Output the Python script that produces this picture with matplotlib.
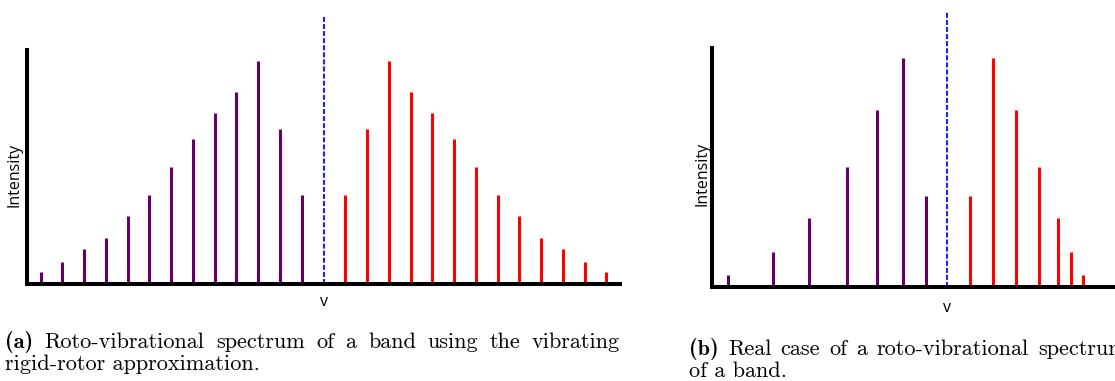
import matplotlib
matplotlib.use("Agg")
import matplotlib.pyplot as plt

# ---------------- data (arbitrary frequency offsets from band centre, relative intensities)
a_p_x = [-13, -12, -11, -10, -9, -8, -7, -6, -5, -4, -3, -2, -1]
a_p_h = [12, 22, 35, 46, 68, 89, 117, 145, 171, 192, 223, 155, 89]
a_r_x = [1, 2, 3, 4, 5, 6, 7, 8, 9, 10, 11, 12, 13]
a_r_h = [89, 155, 223, 192, 171, 145, 117, 89, 68, 46, 35, 22, 12]

b_p_x = [-10.07, -8.0, -6.34, -4.6, -3.22, -2.02, -0.97]
b_p_h = [12, 35, 69, 120, 177, 229, 91]
b_r_x = [1.06, 2.11, 3.17, 4.23, 5.10, 5.70, 6.25]
b_r_h = [91, 229, 177, 120, 69, 35, 12]

caption_a = ["(a)", "Roto-vibrational spectrum of a band using the vibrating",
             "rigid-rotor approximation."]
caption_b = ["(b)", "Real case of a roto-vibrational spectrum", "of a band."]

PURPLE = "#660066"
RED = "#ff0000"
BLUE = "#1f1fff"

W, H = 1115, 381
fig = plt.figure(figsize=(W / 100, H / 100), dpi=100)


def rect(x0, x1, ytop, ybot):
    return [x0 / W, 1 - ybot / H, (x1 - x0) / W, (ybot - ytop) / H]


def panel(r, xlim, ytop, px, ph, rx, rh, dash_top):
    ax = fig.add_axes(r)
    ax.set_xlim(*xlim)
    ax.set_ylim(0, ytop)
    for s in ("top", "right"):
        ax.spines[s].set_visible(False)
    for s in ("left", "bottom"):
        ax.spines[s].set_linewidth(2.9)
        ax.spines[s].set_color("black")
    ax.set_xticks([])
    ax.set_yticks([])
    ax.vlines(px, 0, ph, colors=PURPLE, lw=2.2)
    ax.vlines(rx, 0, rh, colors=RED, lw=2.2)
    ax.vlines([0], 0, dash_top, colors=BLUE, lw=1.5,
              linestyles=[(0, (2.4, 1.0))], clip_on=False)
    ax.patch.set_alpha(0)
    return ax


panel(rect(27, 620, 50, 283.5), (-13.63, 13.63), 233.5,
      a_p_x, a_p_h, a_r_x, a_r_h, 268)
panel(rect(712, 1130, 48, 287), (-10.80, 8.41), 239,
      b_p_x, b_p_h, b_r_x, b_r_h, 275)

lab = dict(family="Open Sans", fontsize=11.5, color="black")
fig.text(15 / W, 1 - 175 / H, "Intensity", rotation=90, ha="center", va="center", **lab)
fig.text(323.5 / W, 1 - 302 / H, "v", ha="center", va="center", **lab)
fig.text(702 / W, 1 - 174 / H, "Intensity", rotation=90, ha="center", va="center", **lab)
fig.text(947 / W, 1 - 308 / H, "v", ha="center", va="center", **lab)

renderer = fig.canvas.get_renderer()
FS = 16


def width(t):
    return t.get_window_extent(renderer).width


def caption(x0, x1, yb1, yb2, cap):
    tag = fig.text(x0 / W, 1 - yb1 / H, cap[0], family="cmb10", fontsize=FS,
                   va="baseline", ha="left")
    words = cap[1].split(" ")
    arts = [fig.text(0, 1 - yb1 / H, w, family="cmr10", fontsize=FS,
                     va="baseline", ha="left") for w in words]
    wt = width(tag)
    ws = [width(a) for a in arts]
    gap = (x1 - x0 - wt - sum(ws)) / len(words)
    x = x0 + wt + gap
    for a, w in zip(arts, ws):
        a.set_x(x / W)
        x += w + gap
    fig.text(x0 / W, 1 - yb2 / H, cap[2], family="cmr10", fontsize=FS,
             va="baseline", ha="left")


caption(5, 620, 348, 370, caption_a)
caption(689, 1127, 355, 377, caption_b)

fig.savefig("out.png", dpi=100)
